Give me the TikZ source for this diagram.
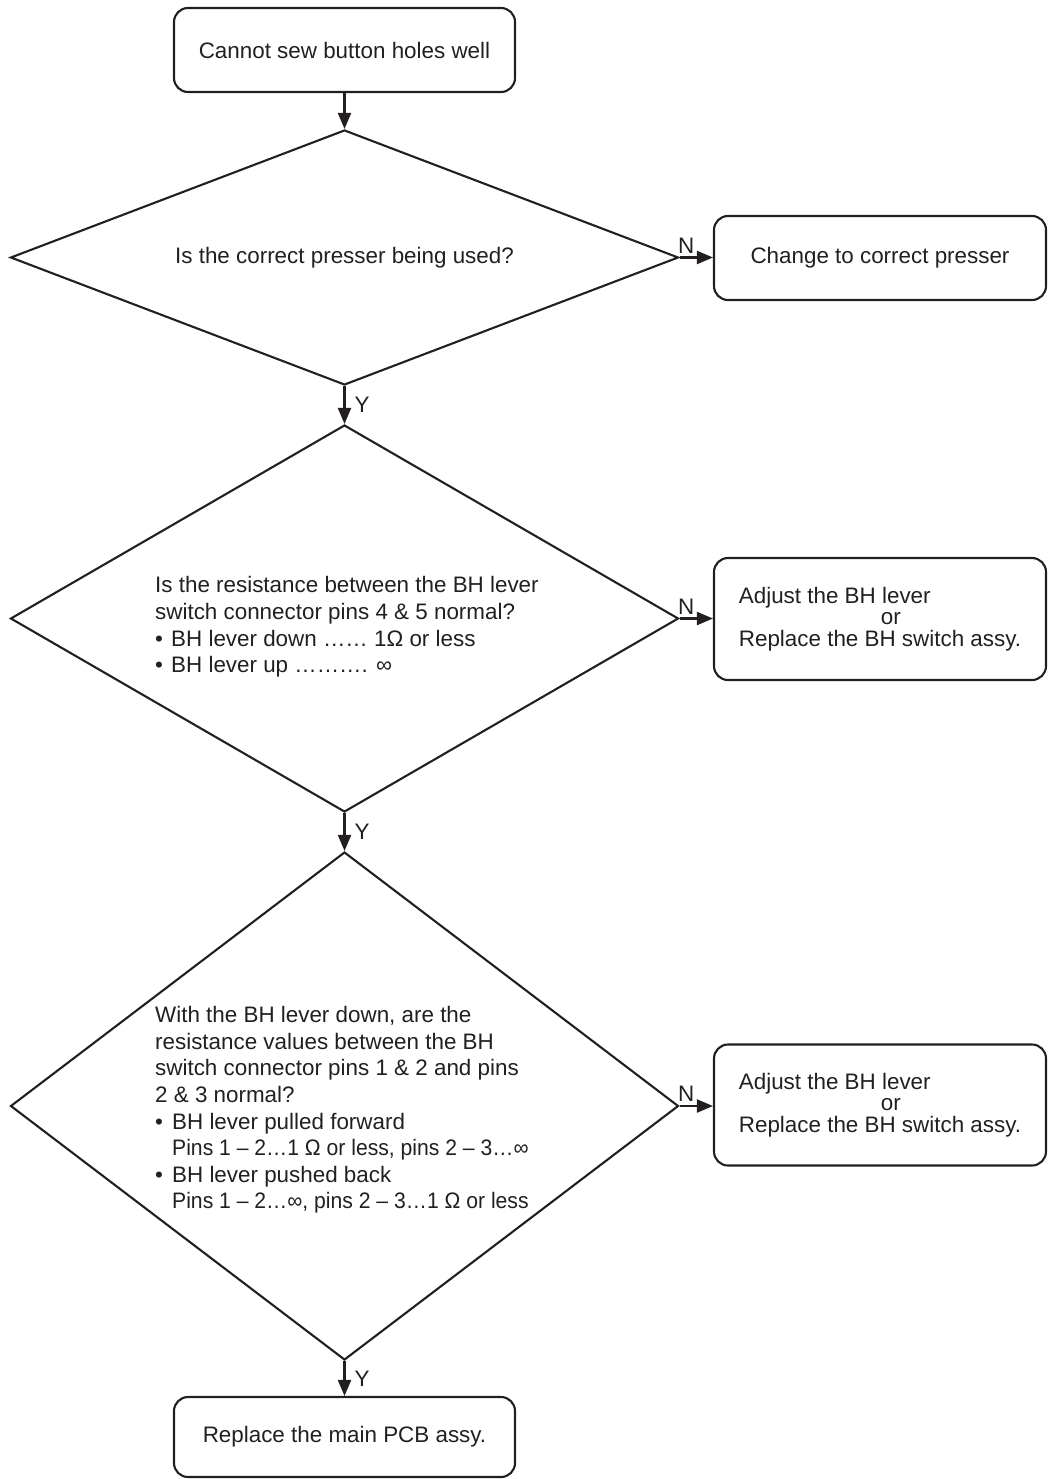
\documentclass[tikz,border=0pt]{standalone}
\usepackage{fontspec}
\usepackage{graphicx}
\setmainfont{Liberation Sans}
\usetikzlibrary{arrows.meta,shapes.geometric}
\definecolor{ink}{HTML}{231F20}
\newcommand{\narrowline}[1]{\scalebox{0.944}[1]{#1}}
\begin{document}
\begin{tikzpicture}[x=1pt,y=-1pt,
  every node/.style={text=ink},
  line/.style={draw=ink, line width=2.1pt},
  arr/.style={line, -{Triangle[length=16pt,width=13pt]}},
  box/.style={line, rounded corners=14pt, inner sep=0pt, align=left,
    font=\fontsize{22.4}{21.5}\selectfont},
  dec/.style={line, shape=diamond, inner sep=0pt, minimum width=668pt},
  dtext/.style={align=left, font=\fontsize{22.4}{26.6}\selectfont, inner sep=0pt, anchor=west},
  lab/.style={font=\fontsize{22.4}{26.6}\selectfont}
]
\useasboundingbox (0,0) rectangle (1048,1479);

% left column
\node[box, minimum width=341pt, minimum height=84pt] (start) at (344.5,50) {Cannot sew button holes well};
\node[dec, minimum height=255pt] (d1) at (344.5,257.5) {};
\node[lab] (t1) at (344.5,258) {Is the correct presser being used?};
\node[dec, minimum height=387pt] (d2) at (344.5,618.5) {};
\node[dtext] (t2) at (155,627) {Is the resistance between the BH lever\\
switch connector pins 4 \& 5 normal?\\
\makebox[16pt][l]{•}BH lever down …… 1Ω or less\\
\makebox[16pt][l]{•}BH lever up ………. ∞};
\node[dec, minimum height=508pt] (d3) at (344.5,1106) {};
\node[dtext] (t3) at (155,1110) {With the BH lever down, are the\\
resistance values between the BH\\
switch connector pins 1 \& 2 and pins\\
2 \& 3 normal?\\
\makebox[17pt][l]{•}BH lever pulled forward\\
\hspace*{17pt}\narrowline{Pins 1 – 2…1 Ω or less, pins 2 – 3…∞}\\
\makebox[17pt][l]{•}BH lever pushed back\\
\hspace*{17pt}\narrowline{Pins 1 – 2…∞, pins 2 – 3…1 Ω or less}};
\node[box, minimum width=341pt, minimum height=80pt] (end) at (344.5,1437) {Replace the main PCB assy.};

% right column
\node[box, minimum width=332pt, minimum height=84pt] (b1) at (880,258) {Change to correct presser};
\node[box, minimum width=332pt, minimum height=122pt] (b2) at (880,619) {Adjust the BH lever\\\hspace*{142pt}or\\Replace the BH switch assy.};
\node[box, minimum width=332pt, minimum height=121pt] (b3) at (880,1105) {Adjust the BH lever\\\hspace*{142pt}or\\Replace the BH switch assy.};

% connectors
\draw[arr] (start.south) -- (d1.north);
\draw[arr] (d1.south) -- node[lab, right, inner sep=9pt] (y1) {Y} (d2.north);
\draw[arr] (d2.south) -- node[lab, right, inner sep=9pt] (y2) {Y} (d3.north);
\draw[arr] (d3.south) -- node[lab, right, inner sep=9pt] (y3) {Y} (end.north);
\draw[arr] (d1.east) -- node[lab, pos=0.2, above] (n1) {N} (d1.east -| b1.west);
\draw[arr] (d2.east) -- node[lab, pos=0.2, above] (n2) {N} (d2.east -| b2.west);
\draw[arr] (d3.east) -- node[lab, pos=0.2, above] (n3) {N} (d3.east -| b3.west);
\end{tikzpicture}
\end{document}
